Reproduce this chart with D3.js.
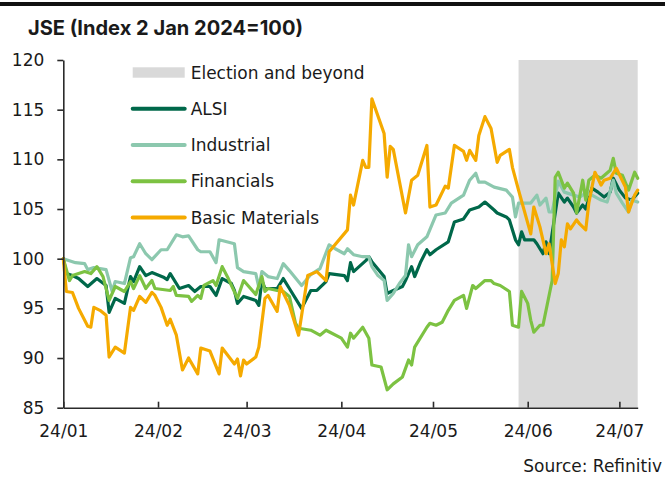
<!DOCTYPE html>
<html>
<head>
<meta charset="utf-8">
<script src="https://cdn.jsdelivr.net/npm/d3@7"></script>
<style>
  html, body { margin: 0; padding: 0; background: #fff; }
  svg { display: block; }
  text { font-family: "DejaVu Sans", sans-serif; fill: #1a1a1a; }
</style>
</head>
<body>
<svg id="chart" width="665" height="477"></svg>
<script>
// ---------------- DATA ----------------
const YEAR = 2024;
const titleText = "JSE (Index 2 Jan 2024=100)";
const sourceText = "Source: Refinitiv";
const seriesNames = ["ALSI", "Industrial", "Financials", "Basic Materials"];
const shadeLabel = "Election and beyond";
const shadeStart = "05-29";
const xDomain = ["01-01", "07-07"];
const xTickDates = ["01-01", "02-01", "03-01", "04-01", "05-01", "06-01", "07-01"];
const yTicks = [85, 90, 95, 100, 105, 110, 115, 120];
const yDomain = [85, 120];

const alsiDates = ["01-01","01-02","01-04","01-06","01-09","01-12","01-15","01-16","01-18","01-21","01-23","01-24","01-26","01-28","01-30","02-03","02-04","02-05","02-08","02-11","02-13","02-15","02-18","02-20","02-22","02-25","02-26","02-27","02-29","03-04","03-05","03-06","03-07","03-11","03-13","03-15","03-19","03-22","03-24","03-27","03-28","04-02","04-03","04-04","04-05","04-09","04-10","04-11","04-15","04-16","04-18","04-21","04-22","04-24","04-25","04-27","04-29","04-30","05-02","05-06","05-08","05-11","05-13","05-16","05-18","05-21","05-22","05-25","05-26","05-28","05-29","05-30","05-31","06-03","06-04","06-06","06-07","06-08","06-11","06-13","06-14","06-16","06-17","06-19","06-20","06-22","06-24","06-26","06-28","06-29","07-01","07-03","07-05","07-07"];
const alsiValues = [100,98.5,98.3,98.0,97.2,98.0,97.3,94.6,96.0,95.5,98.2,97.7,99.2,98.3,98.6,98.1,97.9,98.5,97.0,97.3,96.7,97.2,97.2,96.3,98.0,97.5,96.8,95.5,96.2,95.8,95.3,97.8,97.0,97.0,98.0,97.0,95.0,96.8,96.8,97.7,98.5,98.3,97.8,99.6,98.7,99.8,100.2,99.7,98.2,96.5,96.8,97.2,97.8,99.2,98.2,99.7,100.9,100.4,100.9,101.7,103.7,104.0,104.9,105.2,105.7,104.9,104.6,104.2,103.9,101.9,101.4,102.7,101.9,101.9,101.5,100.5,101.7,100.5,106.6,105.7,106.1,105.2,104.6,105.4,105.0,107.1,106.7,106.2,106.7,108.1,106.9,106.1,105.9,106.6];

const industrialDates = ["01-01","01-03","01-05","01-08","01-09","01-11","01-15","01-17","01-18","01-21","01-23","01-24","01-26","01-28","01-30","02-02","02-04","02-07","02-09","02-11","02-14","02-15","02-18","02-20","02-21","02-26","02-27","02-29","03-04","03-05","03-06","03-08","03-11","03-13","03-15","03-19","03-22","03-25","03-28","03-30","04-02","04-03","04-05","04-08","04-10","04-11","04-13","04-15","04-16","04-18","04-20","04-22","04-23","04-24","04-26","04-29","05-02","05-05","05-07","05-11","05-13","05-15","05-16","05-18","05-21","05-25","05-27","05-28","05-29","06-02","06-04","06-05","06-07","06-08","06-09","06-11","06-13","06-16","06-18","06-20","06-22","06-25","06-27","06-29","06-30","07-02","07-04","07-05","07-07"];
const industrialValues = [100,99.8,99.6,99.5,98.9,99.1,98.9,96.7,97.7,97.5,100.1,100.2,101.5,100.5,99.9,100.9,100.9,102.4,102.2,102.3,100.9,100.7,100.7,99.6,101.9,101.5,99.1,98.7,98.5,97.1,98.7,98.2,98.0,99.5,98.8,97.3,98.4,99.0,101.4,101.0,100.5,101.0,100.4,100.2,100.2,99.2,98.3,97.8,95.8,96.5,97.5,98.3,101.4,100.2,101.4,102.2,104.4,104.6,105.6,106.4,107.9,108.6,107.7,107.7,107.2,106.9,106.2,104.2,105.6,105.6,106.4,105.4,106.1,104.7,104.7,107.8,106.7,106.4,106.2,106.6,106.4,105.9,105.7,107.9,106.6,105.6,104.7,105.9,105.7];

const financialsDates = ["01-01","01-03","01-04","01-08","01-10","01-12","01-14","01-16","01-18","01-21","01-23","01-24","01-26","01-28","01-30","01-31","02-05","02-06","02-07","02-11","02-12","02-14","02-15","02-16","02-19","02-20","02-22","02-24","02-27","02-29","03-04","03-06","03-07","03-08","03-11","03-13","03-15","03-17","03-18","03-22","03-25","03-27","04-01","04-03","04-04","04-05","04-08","04-10","04-11","04-14","04-16","04-18","04-21","04-23","04-24","04-25","04-29","04-30","05-02","05-04","05-06","05-08","05-11","05-12","05-14","05-15","05-18","05-20","05-21","05-23","05-26","05-27","05-29","05-30","06-01","06-02","06-03","06-05","06-06","06-09","06-10","06-11","06-13","06-14","06-16","06-17","06-19","06-20","06-21","06-23","06-25","06-28","06-29","06-30","07-02","07-04","07-06","07-07"];
const financialsValues = [100,97.8,98.3,98.7,98.5,99.2,98.2,95.8,97.2,96.7,97.7,97.0,98.3,97.0,97.8,97.0,96.8,97.2,96.3,96.2,95.7,96.3,96.0,97.3,97.8,97.3,99.2,98.0,96.0,97.8,96.4,98.2,96.7,97.0,96.8,96.7,96.2,93.5,93.0,92.8,92.3,92.8,92.0,91.1,92.5,92.0,93.1,92.0,89.3,89.1,86.8,87.4,88.1,89.8,89.3,91.1,93.1,93.5,93.3,93.6,94.8,95.8,96.3,95.0,97.3,97.0,97.8,97.8,97.5,97.3,96.7,93.3,93.1,96.7,95.5,93.8,92.6,93.3,93.3,97.8,108.2,108.7,107.1,107.6,106.6,104.6,107.9,105.9,107.9,108.4,108.1,108.9,110.1,108.6,108.4,106.9,108.7,108.1];

const materialsDates = ["01-01","01-02","01-04","01-06","01-09","01-10","01-11","01-13","01-15","01-16","01-18","01-21","01-23","01-24","01-26","01-28","01-30","01-31","02-02","02-04","02-05","02-07","02-09","02-11","02-14","02-15","02-18","02-21","02-22","02-26","02-27","02-28","02-29","03-01","03-04","03-05","03-07","03-08","03-11","03-12","03-15","03-18","03-21","03-24","03-27","03-28","04-03","04-04","04-05","04-08","04-09","04-10","04-11","04-15","04-16","04-17","04-18","04-22","04-24","04-26","04-29","04-30","05-02","05-05","05-06","05-08","05-11","05-12","05-13","05-15","05-16","05-18","05-20","05-22","05-23","05-26","05-27","05-29","06-02","06-03","06-05","06-07","06-08","06-10","06-11","06-12","06-13","06-14","06-15","06-17","06-18","06-20","06-21","06-23","06-25","06-26","06-28","06-30","07-03","07-04","07-06","07-07"];
const materialsValues = [100,96.7,96.6,95.0,93.2,93.1,95.1,94.8,94.3,90.1,91.1,90.5,95.1,94.8,96.2,95.6,96.6,96.3,95.1,93.3,93.9,92.3,88.8,90.0,88.4,91.0,90.7,88.4,91.0,89.4,89.9,88.2,89.8,89.4,90.1,91.1,96.0,96.3,94.7,97.2,95.3,92.3,98.3,98.7,97.8,100.7,102.9,106.4,105.4,109.9,109.2,109.2,116.1,112.6,108.2,111.3,111.0,104.6,107.9,108.4,111.4,105.2,105.4,107.3,107.1,111.4,110.8,109.9,110.9,109.9,112.4,114.3,113.1,109.7,110.4,111.0,109.2,106.9,102.5,105.2,103.2,100.5,101.5,97.5,98.5,101.9,101.2,103.5,103.0,103.9,103.5,102.9,105.6,108.7,107.4,107.9,108.1,109.1,107.2,104.7,106.4,106.9];

// ---------------- STYLE ----------------
const seriesColors = ["#00684A", "#8CC8AE", "#7CC242", "#F5AA00"];
const shadeColor = "#D9D9D9";
const W = 665, H = 477;
const plot = { left: 63.3, right: 637.7, top: 60, bottom: 407.7 };

const parse = d3.timeParse("%Y-%m-%d");
const toDate = s => parse(YEAR + "-" + s);

const seriesDates = [alsiDates, industrialDates, financialsDates, materialsDates];
const seriesValues = [alsiValues, industrialValues, financialsValues, materialsValues];
const series = seriesNames.map((name, i) => ({
  name,
  color: seriesColors[i],
  points: seriesDates[i].slice(0, Math.min(seriesDates[i].length, seriesValues[i].length))
            .map((d, j) => ({ date: toDate(d), value: seriesValues[i][j] }))
}));

const svg = d3.select("#chart");

const x = d3.scaleTime().domain(xDomain.map(toDate)).range([plot.left, plot.right]);
const y = d3.scaleLinear().domain(yDomain).range([plot.bottom, plot.top]);

// top rule
svg.append("rect").attr("x", 0).attr("y", 2).attr("width", W).attr("height", 4).attr("fill", "#111");

// title
svg.append("text")
  .attr("x", 28).attr("y", 35)
  .attr("font-weight", 700)
  .attr("font-size", 20)
  .attr("textLength", 275)
  .attr("lengthAdjust", "spacingAndGlyphs")
  .style("font-family", "Inter, 'DejaVu Sans', sans-serif")
  .text(titleText);

// shaded region
svg.append("rect")
  .attr("x", x(toDate(shadeStart)))
  .attr("y", y(yDomain[1]))
  .attr("width", x(toDate(xDomain[1])) - x(toDate(shadeStart)))
  .attr("height", y(yDomain[0]) - y(yDomain[1]))
  .attr("fill", shadeColor);

// lines
const line = d3.line().x(d => x(d.date)).y(d => y(d.value));
svg.append("g").selectAll("path").data(series).join("path")
  .attr("d", d => line(d.points))
  .attr("fill", "none")
  .attr("stroke", d => d.color)
  .attr("stroke-width", 3.2)
  .attr("stroke-linejoin", "round")
  .attr("stroke-linecap", "round");

// axes
const axisColor = "#2b2b2b";
const yAxis = svg.append("g")
  .attr("transform", `translate(${plot.left},0)`)
  .call(d3.axisLeft(y).tickValues(yTicks).tickSizeInner(6).tickSizeOuter(0).tickPadding(13));
const xAxis = svg.append("g")
  .attr("transform", `translate(0,${plot.bottom})`)
  .call(d3.axisBottom(x).tickValues(xTickDates.map(toDate)).tickFormat(d3.timeFormat("%y/%m"))
        .tickSizeInner(-6).tickSizeOuter(0).tickPadding(17));
[yAxis, xAxis].forEach(g => {
  g.select(".domain").attr("stroke", axisColor).attr("stroke-width", 1.6);
  g.selectAll(".tick line").attr("stroke", axisColor).attr("stroke-width", 1.6);
  g.selectAll(".tick text").attr("font-size", 17).attr("font-family", "'DejaVu Sans', sans-serif").attr("fill", "#1a1a1a");
});

// legend
const legendX = 132.7, legendLen = 52, legendTop = 72.5, legendStep = 36.25;
const lg = svg.append("g");
lg.append("rect").attr("x", legendX).attr("y", legendTop - 5.2).attr("width", legendLen).attr("height", 10.4).attr("fill", shadeColor);
lg.append("text").attr("x", legendX + legendLen + 6).attr("y", legendTop).attr("dy", "0.36em")
  .attr("font-size", 17).text(shadeLabel);
series.forEach((s, i) => {
  const yy = legendTop + legendStep * (i + 1);
  lg.append("line").attr("x1", legendX).attr("x2", legendX + legendLen).attr("y1", yy).attr("y2", yy)
    .attr("stroke", s.color).attr("stroke-width", 4).attr("stroke-linecap", "round");
  lg.append("text").attr("x", legendX + legendLen + 6).attr("y", yy).attr("dy", "0.36em")
    .attr("font-size", 17).text(s.name);
});

// source
svg.append("text").attr("x", 662).attr("y", 472).attr("text-anchor", "end")
  .attr("font-size", 17).text(sourceText);
</script>
</body>
</html>
